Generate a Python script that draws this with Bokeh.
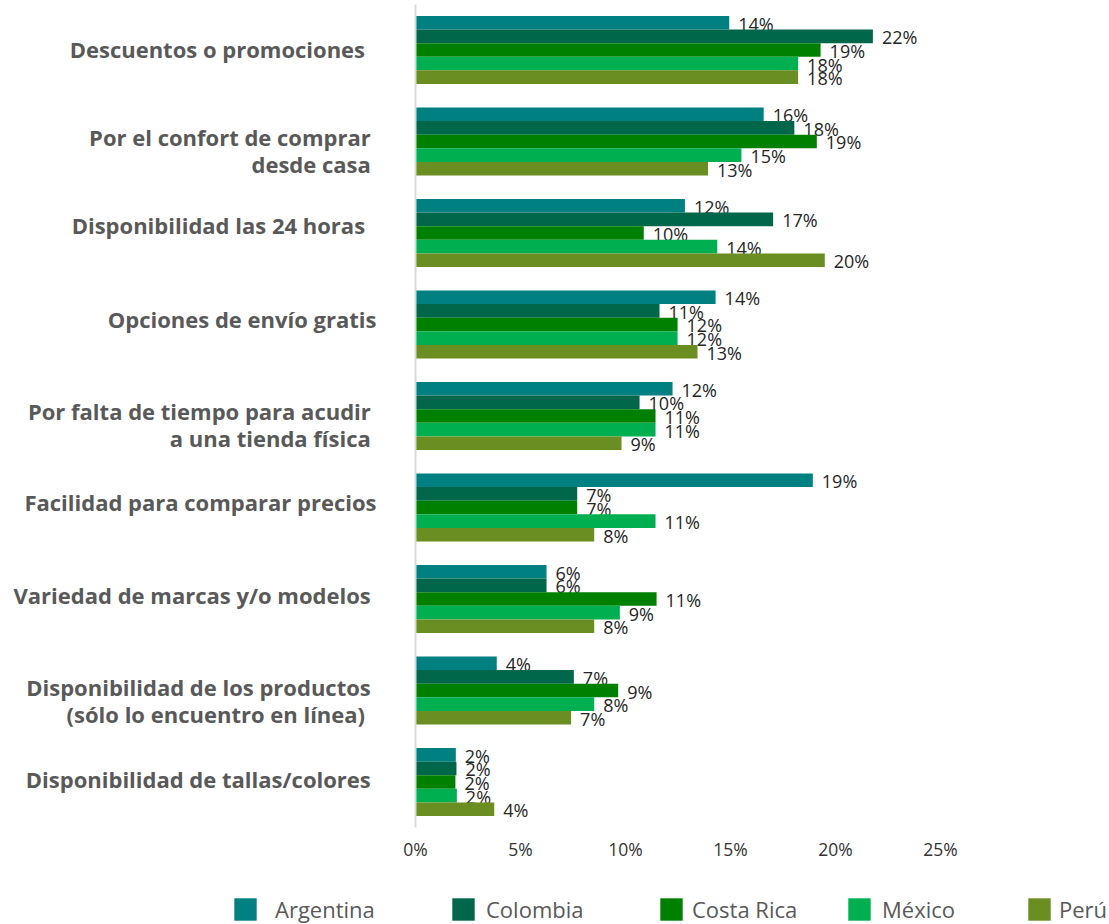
from bokeh.plotting import figure
from bokeh.models import (ColumnDataSource, Range1d, FixedTicker, Legend, LegendItem)
from bokeh.core.properties import value
from bokeh.embed import file_html
from bokeh.resources import INLINE

categories = [
    "Descuentos o promociones  ",
    "Por el confort de comprar \ndesde casa ",
    "Disponibilidad las 24 horas  ",
    "Opciones de envío gratis",
    "Por falta de tiempo para acudir \na una tienda física ",
    "Facilidad para comparar precios",
    "Variedad de marcas y/o modelos ",
    "Disponibilidad de los productos \n(sólo lo encuentro en línea)  ",
    "Disponibilidad de tallas/colores ",
]
series = ["Argentina", "Colombia", "Costa Rica", "México", "Perú"]
argentina = [14.94, 16.58, 12.83, 14.29, 12.24, 18.92, 6.24, 3.87, 1.92]
colombia = [21.78, 18.04, 17.03, 11.62, 10.67, 7.70, 6.24, 7.54, 1.95]
costa_rica = [19.29, 19.11, 10.87, 12.48, 11.43, 7.70, 11.48, 9.65, 1.90]
mexico = [18.22, 15.52, 14.37, 12.48, 11.43, 11.43, 9.73, 8.51, 1.97]
peru = [18.22, 13.93, 19.49, 13.43, 9.81, 8.51, 8.51, 7.41, 3.75]
argentina_lbl = ["14%", "16%", "12%", "14%", "12%", "19%", "6%", "4%", "2%"]
colombia_lbl = ["22%", "18%", "17%", "11%", "10%", "7%", "6%", "7%", "2%"]
costa_rica_lbl = ["19%", "19%", "10%", "12%", "11%", "7%", "11%", "9%", "2%"]
mexico_lbl = ["18%", "15%", "14%", "12%", "11%", "11%", "9%", "8%", "2%"]
peru_lbl = ["18%", "13%", "20%", "13%", "9%", "8%", "8%", "7%", "4%"]
x_ticks = [0, 5, 10, 15, 20, 25]
x_tick_labels = ["0%", "5%", "10%", "15%", "20%", "25%"]

values = [argentina, colombia, costa_rica, mexico, peru]
labels = [argentina_lbl, colombia_lbl, costa_rica_lbl, mexico_lbl, peru_lbl]
colors = ["#008080", "#00674A", "#008000", "#00B050", "#6B8E23"]

FONT = "Open Sans"
BAR_H = 0.1486
W = 1109
# small vertical nudges of the category labels (in category units)
label_nudge = [-0.01, 0.1, -0.087, -0.055, 0.09, -0.055, -0.045, 0.11, -0.033]

p = figure(width=W, height=880, output_backend="svg", toolbar_location=None,
           x_range=Range1d(0, (W - 415) / 21.0), y_range=Range1d(8.497, -0.497),
           min_border_left=415, min_border_right=0, min_border_top=4,
           min_border_bottom=53)
p.outline_line_color = None
p.grid.visible = False
p.background_fill_color = "white"

for j, (name, vals, lbls, col) in enumerate(zip(series, values, labels, colors)):
    ys = [i + (j - 2) * BAR_H for i in range(len(categories))]
    src = ColumnDataSource(dict(y=ys, v=vals, lbl=lbls))
    p.hbar(y="y", left=0, right="v", height=BAR_H, source=src,
           fill_color=col, line_color=None)
    p.text(x="v", y="y", text="lbl", source=src, x_offset=9, y_offset=1,
           text_font=value(FONT), text_font_size="18px", text_color="#262626",
           text_align="left", text_baseline="middle")

# x axis
xa = p.xaxis[0]
xa.ticker = FixedTicker(ticks=x_ticks)
xa.major_label_overrides = {t: l for t, l in zip(x_ticks, x_tick_labels)}
xa.axis_line_color = None
xa.major_tick_line_color = None
xa.minor_tick_line_color = None
xa.major_label_standoff = 3
xa.major_label_text_font = FONT
xa.major_label_text_font_size = "17.5px"
xa.major_label_text_color = "#333333"

# y axis
ytick_pos = [round(i + d, 3) for i, d in enumerate(label_nudge)]
ya = p.yaxis[0]
ya.ticker = FixedTicker(ticks=ytick_pos)
ya.major_label_overrides = {t: c for t, c in zip(ytick_pos, categories)}
ya.axis_line_color = "#D9D9D9"
ya.axis_line_width = 2
ya.major_tick_line_color = None
ya.minor_tick_line_color = None
ya.major_label_standoff = 33
ya.major_label_text_font = FONT
ya.major_label_text_font_style = "bold"
ya.major_label_text_font_size = "22px"
ya.major_label_text_line_height = 0.89
ya.major_label_text_color = "#595959"

# legend strip (separate root so its frame is not aligned with the chart)
lg = figure(width=W, height=44, output_backend="svg", toolbar_location=None,
            x_range=Range1d(0, 1), y_range=Range1d(0, 1),
            x_axis_location=None, y_axis_location=None,
            min_border_left=0, min_border_right=0, min_border_top=0,
            min_border_bottom=0)
lg.outline_line_color = None
lg.grid.visible = False
legend_x = [231, 449, 657, 845, 1025]
legend_text_x = [275, 486, 692, 882, 1059]
GW = 28
for j, (name, col) in enumerate(zip(series, colors)):
    # swatch-only renderer kept outside the visible range
    r = lg.hbar(y=[-5], left=[0], right=[0], height=0.1, fill_color=col, line_color=None)
    leg = Legend(items=[LegendItem(label=name, renderers=[r])],
                 location=(legend_x[j], 0), orientation="horizontal",
                 padding=0, margin=0, spacing=0,
                 glyph_width=GW, glyph_height=GW,
                 label_standoff=legend_text_x[j] - legend_x[j] - GW,
                 label_text_font=FONT, label_text_font_size="22px",
                 label_text_color="#595959",
                 border_line_color=None, background_fill_alpha=0)
    lg.add_layout(leg)

open("out.html", "w").write(file_html([p, lg], INLINE))
